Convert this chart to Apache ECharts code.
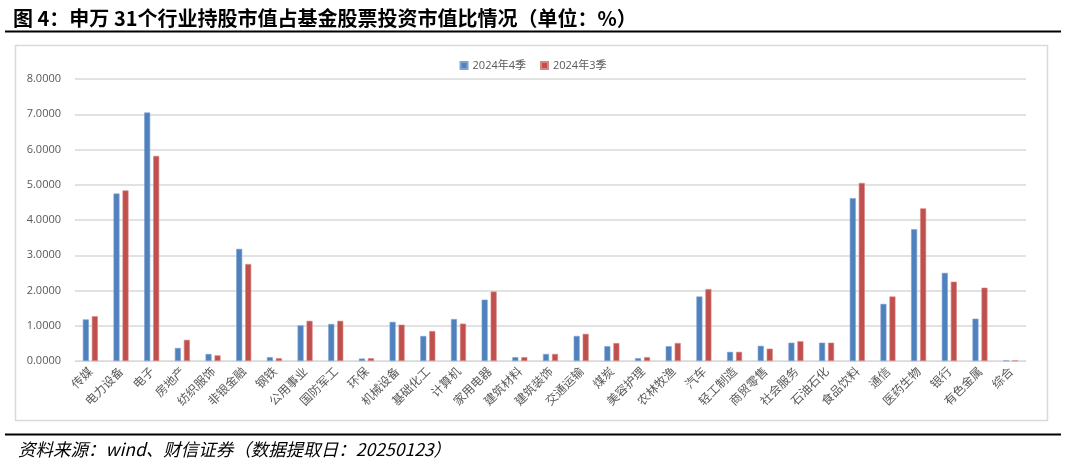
<!DOCTYPE html>
<html>
<head>
<meta charset="utf-8">
<script src="https://cdn.jsdelivr.net/npm/echarts@6/dist/echarts.min.js"></script>
<style>
html,body{margin:0;padding:0;background:#fff;}
#c{width:1066px;height:466px;}
</style>
</head>
<body>
<div id="c"></div>
<script>
const titleText = '图 4：申万 31个行业持股市值占基金股票投资市值比情况（单位：%）';
const sourceText = '资料来源：wind、财信证券（数据提取日：20250123）';
const seriesNames = ['2024年4季', '2024年3季'];
const categories = ['传媒','电力设备','电子','房地产','纺织服饰','非银金融','钢铁','公用事业','国防军工','环保','机械设备','基础化工','计算机','家用电器','建筑材料','建筑装饰','交通运输','煤炭','美容护理','农林牧渔','汽车','轻工制造','商贸零售','社会服务','石油石化','食品饮料','通信','医药生物','银行','有色金属','综合'];
const q4Values = [1.18,4.75,7.05,0.37,0.20,3.18,0.11,1.01,1.05,0.07,1.11,0.71,1.19,1.74,0.11,0.20,0.71,0.42,0.08,0.42,1.83,0.26,0.43,0.52,0.52,4.62,1.62,3.74,2.50,1.20,0.01];
const q3Values = [1.27,4.84,5.82,0.60,0.16,2.75,0.08,1.14,1.14,0.08,1.03,0.85,1.06,1.97,0.11,0.20,0.77,0.51,0.11,0.51,2.04,0.26,0.35,0.56,0.52,5.05,1.83,4.33,2.25,2.08,0.01];

const chart = echarts.init(document.getElementById('c'), null, {renderer:'canvas'});
const cjk = '"Noto Sans CJK SC", "Noto Sans", sans-serif';
chart.setOption({
  animation:false,
  backgroundColor:'#fff',
  title:{
    text:titleText, left:8, top:3,
    textStyle:{fontFamily:cjk, fontSize:20, fontWeight:'bold', color:'#000'}
  },
  legend:{
    data:seriesNames, top:55, left:'center',
    itemWidth:7, itemHeight:7, itemGap:14, icon:'rect',
    textStyle:{fontFamily:'"Open Sans", "Noto Sans CJK SC", sans-serif', fontSize:11, color:'#595959'}
  },
  graphic:[
    {type:'line', shape:{x1:5,y1:31.5,x2:1061,y2:31.5}, style:{stroke:'#000', lineWidth:2}, silent:true},
    {type:'rect', shape:{x:15.5,y:45.5,width:1032,height:375}, style:{fill:'none', stroke:'#D9D9D9', lineWidth:1.5}, silent:true, z:-1},
    {type:'line', shape:{x1:5,y1:434.5,x2:1061,y2:434.5}, style:{stroke:'#000', lineWidth:2}, silent:true},
    {type:'text', left:18, top:441, style:{text:sourceText, fontFamily:cjk, fontStyle:'italic', fontSize:17.5, fill:'#000'}}
  ],
  grid:{left:75, right:40, top:79, bottom:105, containLabel:false},
  xAxis:{
    type:'category', data:categories,
    axisLine:{lineStyle:{color:'#D9D9D9', width:1}},
    axisTick:{show:false},
    axisLabel:{interval:0, rotate:45, fontFamily:cjk, fontSize:12, color:'#595959', margin:8}
  },
  yAxis:{
    type:'value', min:0, max:8, interval:1,
    axisLine:{show:false}, axisTick:{show:false},
    splitLine:{lineStyle:{color:'#D9D9D9', width:1.5}},
    axisLabel:{formatter:v=>v.toFixed(4), fontFamily:'"Open Sans", sans-serif', fontSize:11, color:'#595959', margin:14}
  },
  series:[
    {name:seriesNames[0], type:'bar', data:q4Values, barWidth:6, barGap:'50%',
     itemStyle:{color:'#4F81BD', borderColor:'#7FA3D3', borderWidth:0.6}},
    {name:seriesNames[1], type:'bar', data:q3Values, barWidth:6,
     itemStyle:{color:'#C0504D', borderColor:'#D68683', borderWidth:0.6}}
  ]
});
</script>
</body>
</html>
